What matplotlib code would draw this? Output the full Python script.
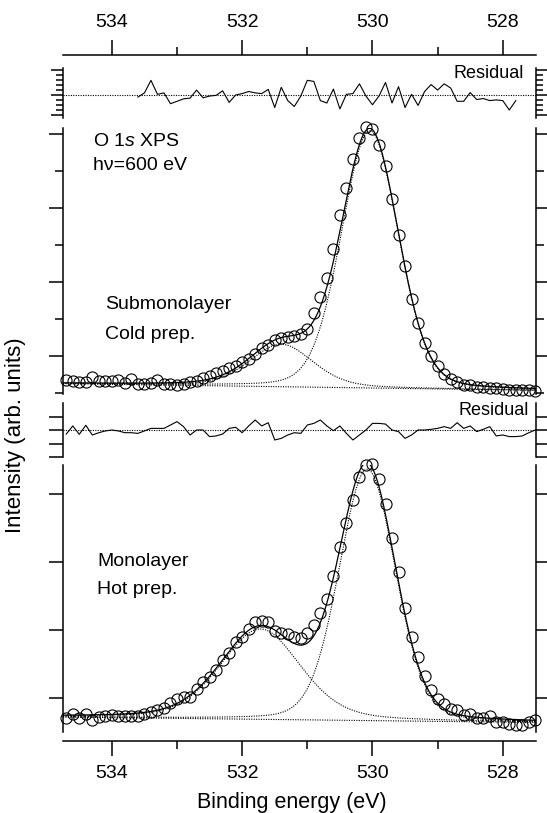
import numpy as np
import matplotlib
matplotlib.use('Agg')
import matplotlib.pyplot as plt
from matplotlib.ticker import FixedLocator

plt.rcParams['font.family'] = 'Liberation Sans'
plt.rcParams['mathtext.fontset'] = 'custom'
plt.rcParams['mathtext.rm'] = 'Liberation Sans'
plt.rcParams['mathtext.it'] = 'Liberation Sans:italic'

# Binding energies of the data points (eV)
energy = [534.7, 534.6, 534.5, 534.4, 534.3, 534.2, 534.1, 534.0, 533.9, 533.8,
          533.7, 533.6, 533.5, 533.4, 533.3, 533.2, 533.1, 533.0, 532.9, 532.8,
          532.7, 532.6, 532.5, 532.4, 532.3, 532.2, 532.1, 532.0, 531.9, 531.8,
          531.7, 531.6, 531.5, 531.4, 531.3, 531.2, 531.1, 531.0, 530.9, 530.8,
          530.7, 530.6, 530.5, 530.4, 530.3, 530.2, 530.1, 530.0, 529.9, 529.8,
          529.7, 529.6, 529.5, 529.4, 529.3, 529.2, 529.1, 529.0, 528.9, 528.8,
          528.7, 528.6, 528.5, 528.4, 528.3, 528.2, 528.1, 528.0, 527.9, 527.8,
          527.7, 527.6, 527.5]

# Submonolayer, cold prep. (upper spectrum)
sub_int = [0.36, 0.32, 0.30, 0.29, 0.42, 0.33, 0.32, 0.33, 0.35, 0.28,
           0.37, 0.23, 0.25, 0.27, 0.35, 0.24, 0.25, 0.22, 0.23, 0.29,
           0.33, 0.41, 0.46, 0.53, 0.60, 0.67, 0.74, 0.83, 0.91, 1.05,
           1.20, 1.30, 1.42, 1.48, 1.52, 1.55, 1.58, 1.72, 2.15, 2.60,
           3.10, 3.90, 4.82, 5.55, 6.32, 6.90, 7.18, 7.14, 6.70, 6.12,
           5.25, 4.28, 3.42, 2.55, 1.88, 1.35, 1.00, 0.72, 0.50, 0.38,
           0.29, 0.22, 0.20, 0.17, 0.15, 0.13, 0.12, 0.10, 0.09, 0.07,
           0.07, 0.08, 0.05]
sub_res_energy = energy[11:70]
sub_res = [-0.42, 0.42, 2.93, 0.14, 0.42, -1.74, -1.26, -0.77, -0.63, 0.98,
           -0.56, -0.21, -0.07, 0.84, -1.47, 0.00, 0.28, 0.70, 0.42, 0.28,
           1.12, -2.51, 1.54, -1.12, -2.30, -0.21, 2.93, 2.72, -1.12, -1.60,
           1.19, -2.79, 0.14, 0.28, 2.23, -0.21, -1.95, -0.21, 2.51, -1.60,
           1.67, -2.51, 0.14, -2.09, 0.70, 2.09, 0.98, 2.23, 1.40, -1.26,
           -1.26, 0.49, -0.91, -0.70, -1.12, -0.98, -1.12, -3.00, -1.12]
# fit peaks: center, height, fwhm, lorentz fraction
sub_peaks = [(530.04, 6.95, 1.03, 0.15), (531.40, 1.15, 1.15, 0.3)]
sub_bg = (0.25, 0.07)  # background at left / right end

# Monolayer, hot prep. (lower spectrum)
mono_int = [0.70, 0.76, 0.70, 0.76, 0.68, 0.72, 0.74, 0.75, 0.73, 0.73,
            0.73, 0.74, 0.77, 0.80, 0.83, 0.86, 0.92, 0.99, 1.01, 1.02,
            1.14, 1.24, 1.31, 1.41, 1.56, 1.66, 1.83, 1.90, 2.02, 2.12,
            2.13, 2.12, 1.98, 1.95, 1.94, 1.90, 1.88, 1.95, 2.07, 2.25,
            2.46, 2.79, 3.23, 3.57, 3.92, 4.25, 4.43, 4.45, 4.22, 3.86,
            3.35, 2.85, 2.32, 1.90, 1.60, 1.32, 1.12, 0.99, 0.91, 0.84,
            0.83, 0.75, 0.76, 0.70, 0.70, 0.73, 0.64, 0.64, 0.62, 0.60,
            0.61, 0.65, 0.68]
mono_res = [-0.30, 0.30, -0.32, 0.35, -0.37, -0.20, -0.07, 0.00, -0.07, -0.20,
            -0.20, -0.25, -0.07, 0.12, 0.12, 0.12, 0.37, 0.62, 0.25, -0.37,
            0.00, 0.00, -0.49, -0.44, -0.30, 0.12, 0.20, -0.20, 0.30, 0.74,
            0.30, 0.54, -0.74, -0.62, -0.37, -0.20, -0.25, 0.37, 0.49, 0.74,
            0.30, -0.05, 0.30, -0.25, -0.74, -0.37, 0.00, 0.49, 0.49, 0.44,
            0.00, -0.12, -0.62, -0.37, 0.00, 0.00, 0.05, 0.12, 0.25, 0.12,
            0.54, 0.12, 0.30, -0.12, 0.05, 0.25, -0.44, -0.37, -0.49, -0.49,
            -0.44, -0.20, 0.00]
mono_peaks = [(530.08, 3.70, 1.02, 0.15), (531.72, 1.33, 1.45, 0.3)]
mono_bg = (0.72, 0.64)

XMIN, XMAX = 534.75, 527.49
W, H = 547, 813
L, R = 63, 536


def pvoigt(e, c, a, w, eta):
    x = (e - c) / w
    return a * ((1 - eta) * np.exp(-4 * np.log(2) * x ** 2) + eta / (1 + 4 * x ** 2))


def make_ax(top, bot):
    return fig.add_axes([L / W, 1 - bot / H, (R - L) / W, (bot - top) / H])


def style(ax, major, minor, lmaj, lmin):
    for s in ['top', 'bottom']:
        ax.spines[s].set_visible(False)
    for s in ['left', 'right']:
        ax.spines[s].set_linewidth(1.1)
    ax.set_xlim(XMIN, XMAX)
    ax.yaxis.set_major_locator(FixedLocator(major))
    ax.yaxis.set_minor_locator(FixedLocator(minor))
    ax.tick_params(axis='y', which='both', direction='out', left=True, right=True,
                   labelleft=False, width=1.1)
    ax.tick_params(axis='y', which='major', length=lmaj)
    ax.tick_params(axis='y', which='minor', length=lmin)
    ax.tick_params(axis='x', which='both', bottom=False, top=False,
                   labelbottom=False, labeltop=False)
    ax.patch.set_visible(False)


def spectrum(ax, inten, peaks, bg):
    e_fine = np.linspace(XMIN, XMAX, 600)
    base = bg[1] + (bg[0] - bg[1]) * (e_fine - XMAX) / (XMIN - XMAX)
    total = base.copy()
    for p in peaks:
        comp = pvoigt(e_fine, *p)
        ax.plot(e_fine, base + comp, ls=(0, (1, 1.2)), color='black', lw=0.8)
        total = total + comp
    ax.plot(e_fine, base, ls=(0, (1, 1.2)), color='black', lw=0.8)
    ax.plot(e_fine, total, color='black', lw=0.9)
    ax.plot(energy, inten, 'o', mfc='none', mec='black', ms=8, mew=0.8, clip_on=False)


fig = plt.figure(figsize=(W / 100, H / 100), dpi=100)

# top residual
r1 = make_ax(68, 118)
style(r1, [-4, 0, 5], [-3, -2, -1, 1, 2, 3, 4], 9, 5)
r1.set_ylim(-4.6, 5.4)
r1.axhline(0, ls=(0, (1, 1.2)), color='black', lw=0.8)
r1.plot(sub_res_energy, sub_res, color='black', lw=0.8)
r1.spines['top'].set_visible(True)
r1.spines['top'].set_linewidth(1.1)
r1.spines['top'].set_position(('outward', 9.4))
r1.set_xticks([534, 532, 530, 528])
r1.set_xticks([533, 531, 529], minor=True)
r1.tick_params(axis='x', which='both', top=True, labeltop=True, direction='out',
               width=1.1, labelsize=14, pad=6)
r1.tick_params(axis='x', which='major', length=11)
r1.tick_params(axis='x', which='minor', length=6)
r1.text(0.975, 0.9, 'Residual', transform=r1.transAxes, ha='right', va='center', fontsize=13)

# upper spectrum
s1 = make_ax(128, 394)
style(s1, [1, 3, 5, 7], [0, 2, 4, 6], 10, 5.5)
s1.set_ylim(-0.03, 7.16)
spectrum(s1, sub_int, sub_peaks, sub_bg)
s1.text(0.063, 0.95, r'O 1$\it{s}$ XPS', transform=s1.transAxes, ha='left', va='center', fontsize=14)
s1.text(0.063, 0.86, 'hν=600 eV', transform=s1.transAxes, ha='left', va='center', fontsize=14)
s1.text(0.089, 0.335, 'Submonolayer', transform=s1.transAxes, ha='left', va='center', fontsize=14)
s1.text(0.089, 0.225, 'Cold prep.', transform=s1.transAxes, ha='left', va='center', fontsize=14)

# lower residual
r2 = make_ax(403, 457)
style(r2, [-2, -1, 0, 1], [], 10, 5)
r2.set_ylim(-2.0, 2.0)
r2.axhline(0, ls=(0, (1, 1.2)), color='black', lw=0.8)
r2.plot(energy, mono_res, color='black', lw=0.8)
r2.text(0.985, 0.87, 'Residual', transform=r2.transAxes, ha='right', va='center', fontsize=13)

# lower spectrum
s2 = make_ax(465, 732)
style(s2, [1, 2, 3, 4], [], 10, 5)
s2.set_ylim(0.5, 4.43)
spectrum(s2, mono_int, mono_peaks, mono_bg)
s2.spines['bottom'].set_visible(True)
s2.spines['bottom'].set_linewidth(1.1)
s2.spines['bottom'].set_position(('outward', 6.5))
s2.set_xticks([534, 532, 530, 528])
s2.set_xticks([533, 531, 529], minor=True)
s2.tick_params(axis='x', which='both', bottom=True, labelbottom=True, direction='out',
               width=1.1, labelsize=14, pad=6)
s2.tick_params(axis='x', which='major', length=11)
s2.tick_params(axis='x', which='minor', length=6)
s2.text(0.072, 0.64, 'Monolayer', transform=s2.transAxes, ha='left', va='center', fontsize=14)
s2.text(0.072, 0.535, 'Hot prep.', transform=s2.transAxes, ha='left', va='center', fontsize=14)

fig.text(292 / W, 1 - 802 / H, 'Binding energy (eV)', ha='center', va='center', fontsize=15.5)
fig.text(16 / W, 1 - 435 / H, 'Intensity (arb. units)', ha='center', va='center',
         rotation=90, fontsize=16)

fig.savefig('out.png', dpi=100)
